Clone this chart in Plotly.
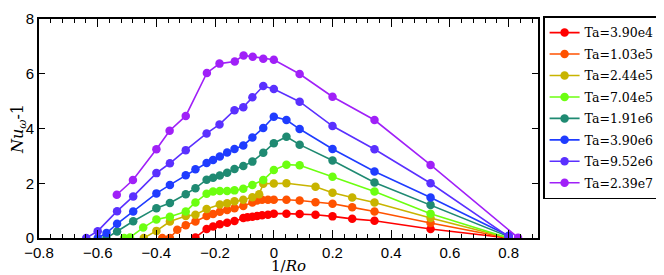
import plotly.graph_objects as go

labels = ["Ta=3.90e4", "Ta=1.03e5", "Ta=2.44e5", "Ta=7.04e5",
          "Ta=1.91e6", "Ta=3.90e6", "Ta=9.52e6", "Ta=2.39e7"]
colors = ["#ff0000", "#ff5200", "#c8b400", "#6cff10",
          "#1f8a72", "#1f3cff", "#5a30ff", "#a020f8"]

x_red = [-0.267, -0.229, -0.207, -0.184, -0.159, -0.134, -0.104, -0.09, -0.073, -0.057, -0.04, -0.02, 0.0, 0.043, 0.088, 0.142, 0.2, 0.267, 0.343, 0.534, 0.80]
y_red = [0.02, 0.33, 0.42, 0.50, 0.56, 0.62, 0.73, 0.76, 0.78, 0.80, 0.83, 0.85, 0.89, 0.89, 0.88, 0.85, 0.79, 0.70, 0.63, 0.33, 0.0]

x_orange = [-0.38, -0.354, -0.329, -0.30, -0.267, -0.229, -0.207, -0.184, -0.159, -0.134, -0.104, -0.073, -0.057, -0.04, -0.02, 0.0, 0.043, 0.088, 0.142, 0.2, 0.267, 0.343, 0.534, 0.80]
y_orange = [0.0, 0.0, 0.30, 0.47, 0.60, 0.80, 0.88, 0.96, 1.02, 1.09, 1.17, 1.30, 1.37, 1.40, 1.40, 1.40, 1.40, 1.37, 1.31, 1.25, 1.12, 0.97, 0.55, 0.0]

x_yellow = [-0.443, -0.40, -0.354, -0.30, -0.267, -0.229, -0.184, -0.159, -0.134, -0.104, -0.073, -0.05, -0.036, 0.0, 0.043, 0.142, 0.2, 0.267, 0.343, 0.534, 0.80]
y_yellow = [0.0, 0.26, 0.60, 0.80, 0.85, 1.06, 1.22, 1.27, 1.34, 1.40, 1.49, 1.60, 1.98, 1.99, 2.00, 1.87, 1.65, 1.48, 1.30, 0.73, 0.0]

x_green = [-0.51, -0.49, -0.445, -0.40, -0.354, -0.30, -0.267, -0.229, -0.207, -0.184, -0.159, -0.134, -0.104, -0.073, -0.036, 0.0, 0.043, 0.088, 0.2, 0.343, 0.534, 0.80]
y_green = [0.0, 0.02, 0.38, 0.68, 0.78, 0.97, 1.30, 1.62, 1.70, 1.72, 1.72, 1.74, 1.80, 1.94, 2.12, 2.48, 2.68, 2.66, 2.24, 1.70, 0.89, 0.0]

x_teal = [-0.57, -0.534, -0.479, -0.40, -0.354, -0.30, -0.267, -0.229, -0.207, -0.184, -0.159, -0.134, -0.104, -0.073, -0.036, 0.0, 0.043, 0.088, 0.2, 0.343, 0.534, 0.80]
y_teal = [0.0, 0.24, 0.61, 1.09, 1.28, 1.60, 1.82, 2.13, 2.20, 2.28, 2.38, 2.52, 2.63, 2.79, 3.11, 3.46, 3.70, 3.41, 2.83, 2.03, 1.21, 0.05]

x_blue = [-0.60, -0.57, -0.534, -0.479, -0.40, -0.354, -0.30, -0.267, -0.229, -0.207, -0.184, -0.159, -0.134, -0.104, -0.073, -0.036, 0.0, 0.043, 0.088, 0.2, 0.343, 0.534, 0.80]
y_blue = [0.0, 0.18, 0.52, 0.97, 1.63, 1.94, 2.29, 2.51, 2.74, 2.85, 2.98, 3.12, 3.25, 3.38, 3.67, 4.02, 4.43, 4.31, 3.98, 3.25, 2.43, 1.48, 0.08]

x_indigo = [-0.639, -0.60, -0.534, -0.479, -0.40, -0.354, -0.30, -0.229, -0.185, -0.134, -0.104, -0.073, -0.036, 0.0, 0.088, 0.2, 0.343, 0.534, 0.80]
y_indigo = [0.0, 0.25, 0.98, 1.52, 2.37, 2.73, 3.21, 3.82, 4.15, 4.67, 4.78, 5.14, 5.55, 5.44, 4.98, 4.09, 3.24, 2.00, 0.05]

x_purple = [-0.535, -0.48, -0.40, -0.355, -0.30, -0.228, -0.185, -0.133, -0.103, -0.072, -0.036, 0.0, 0.088, 0.2, 0.343, 0.534, 0.832]
y_purple = [1.58, 2.12, 3.24, 3.92, 4.46, 6.03, 6.37, 6.45, 6.67, 6.62, 6.55, 6.51, 5.99, 5.16, 4.31, 2.67, 0.01]

xs = [x_red, x_orange, x_yellow, x_green, x_teal, x_blue, x_indigo, x_purple]
ys = [y_red, y_orange, y_yellow, y_green, y_teal, y_blue, y_indigo, y_purple]

x_ticks = [-0.8, -0.6, -0.4, -0.2, 0, 0.2, 0.4, 0.6, 0.8]
y_ticks = [0, 2, 4, 6, 8]

fig = go.Figure()
for i, (x, y, lab, c) in enumerate(zip(xs, ys, labels, colors)):
    fig.add_trace(go.Scatter(x=x, y=y, name=lab, mode="lines+markers",
                             legendgroup=f"g{i}",
                             line=dict(color=c, width=1.6),
                             marker=dict(color=c, size=8.5)))

axis_common = dict(showline=True, linecolor="black", linewidth=1.6, mirror="ticks",
                   ticks="inside", tickcolor="black", showgrid=False, zeroline=False,
                   tickfont=dict(family="Liberation Sans, Arial, sans-serif", size=15, color="black"))

fig.update_xaxes(range=[-0.8, 0.9], tickvals=x_ticks, ticklen=8, tickwidth=1.4,
                 minor=dict(dtick=0.04, ticks="inside", ticklen=4, tickcolor="black", tickwidth=1.2),
                 title=dict(text="1/<i>Ro</i>", standoff=5,
                            font=dict(family="DejaVu Serif, serif", size=15, color="black")),
                 **axis_common)
fig.update_yaxes(range=[0, 8], tickvals=y_ticks, ticklen=6, tickwidth=1.4,
                 title=dict(text="<i>Nu</i><sub><i>ω</i></sub>-1", standoff=4,
                            font=dict(family="DejaVu Serif, serif", size=16, color="black")),
                 **axis_common)

# page body adds an 8px offset; size and margins compensate
fig.update_layout(
    width=656, height=267,
    margin=dict(l=31, r=126, t=11, b=37, autoexpand=False),
    plot_bgcolor="white", paper_bgcolor="white",
    showlegend=True,
    legend=dict(x=1.01, y=1.012, xanchor="left", yanchor="top",
                bordercolor="black", borderwidth=1.6, bgcolor="white",
                font=dict(family="DejaVu Serif, serif", size=12.5, color="black"),
                itemwidth=30, tracegroupgap=2.2, maxheight=260),
)

fig.write_html("out.html")
